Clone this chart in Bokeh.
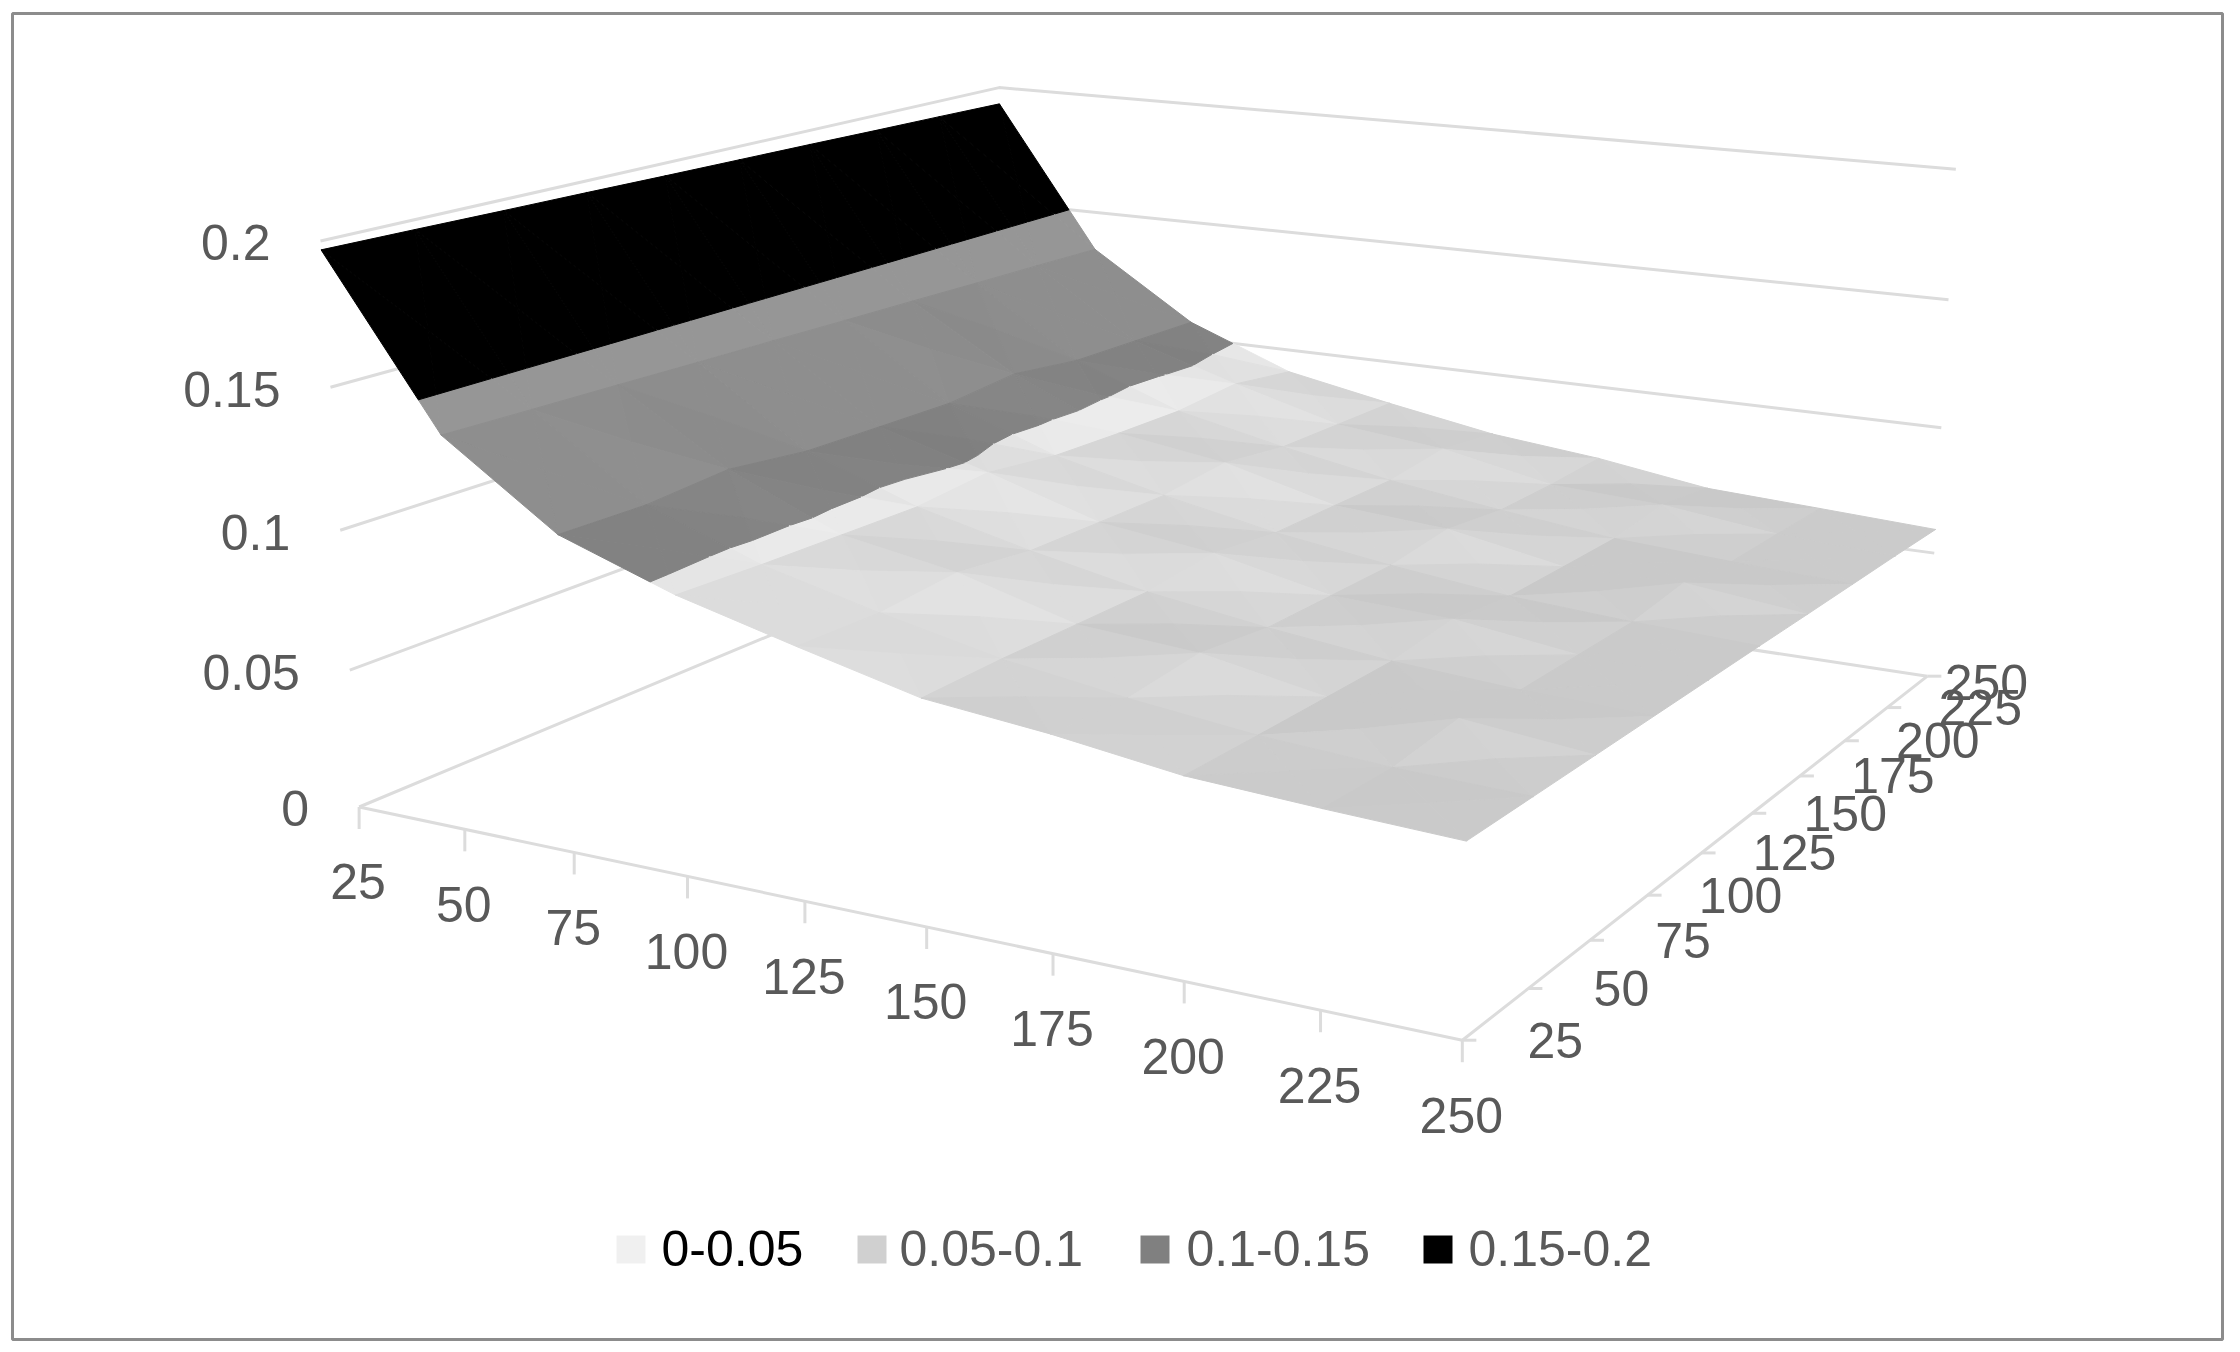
import numpy as np
from bokeh.plotting import figure
from bokeh.embed import file_html
from bokeh.resources import INLINE
from bokeh.core.properties import value

x_values = [25, 50, 75, 100, 125, 150, 175, 200, 225, 250]
y_values = [25, 50, 75, 100, 125, 150, 175, 200, 225, 250]
z_ticks = [0, 0.05, 0.1, 0.15, 0.2]
z_labels = ["0", "0.05", "0.1", "0.15", "0.2"]
legend_labels = ["0-0.05", "0.05-0.1", "0.1-0.15", "0.15-0.2"]

z_y25 = [.197, .139, .111, .097, .0866, .0767, .0725, .0668, .0644, .0625]
z_y50 = [.1966, .1384, .1106, .0960, .0860, .0772, .0712, .0664, .0636, .0622]
z_y75 = [.1961, .1379, .113, .0955, .0885, .0770, .0740, .0662, .0664, .0619]
z_y100 = [.1957, .1373, .1097, .0950, .0852, .0768, .0708, .0660, .0632, .0616]
z_y125 = [.1952, .1368, .1092, .0975, .0848, .0796, .0706, .0688, .0630, .0613]
z_y150 = [.1948, .1362, .1088, .0940, .0845, .0764, .0704, .0655, .0628, .0610]
z_y175 = [.1944, .1357, .1114, .0930, .0870, .0762, .0732, .0652, .0656, .0606]
z_y200 = [.1939, .1351, .108, .0925, .0835, .0758, .0700, .0650, .0624, .0603]
z_y225 = [.1935, .1346, .1075, .0945, .0830, .0785, .0698, .0676, .0622, .0600]
z_y250 = [.193, .134, .107, .0907, .0825, .075, .0705, .0640, .0618, .0595]
Z = np.array([z_y25, z_y50, z_y75, z_y100, z_y125, z_y150, z_y175, z_y200, z_y225, z_y250])

# camera: calibration of unit cube (u, v, w) onto the page, solved as a projective matrix
cal = [((0,0,0),(355,807)),((1,0,0),(1461,1038)),((1,1,0),(1925,677)),((0,1,0),(1013,538)),
       ((0,0,1),(324,238)),((1,1,1),(1957,166)),((0,1,1),(992,90)),((1,0,1),(1477,388)),
       ((0,0,.25),(347,669)),((0,0,.5),(339,528)),((0,0,.75),(332,385)),
       ((1,1,.25),(1932,553)),((1,1,.5),(1941,426)),((1,1,.75),(1949,296))]
A = []
for (u,v,w),(sx,sy) in cal:
    A.append([u,v,w,1,0,0,0,0,-sx*u,-sx*v,-sx*w,-sx])
    A.append([0,0,0,0,u,v,w,1,-sy*u,-sy*v,-sy*w,-sy])
P = np.linalg.svd(np.array(A,float))[2][-1].reshape(3,4)

def proj(x, y, z):
    h = P @ np.array([(x-25)/225, (y-25)/225, z/0.2, 1.0])
    return float(h[0]/h[2]), float(h[1]/h[2])

def clip(poly, lo, hi):
    def cut(pts, keep, level):
        out = []
        for i in range(len(pts)):
            a, b = pts[i], pts[(i+1) % len(pts)]
            ka, kb = keep(a[2]), keep(b[2])
            if ka:
                out.append(a)
            if ka != kb:
                t = (level-a[2])/(b[2]-a[2])
                out.append(tuple(a[k]+t*(b[k]-a[k]) for k in range(3)))
        return out
    pts = cut(poly, lambda z: z >= lo, lo)
    if pts:
        pts = cut(pts, lambda z: z <= hi, hi)
    return pts

def shade(tri, band):
    (x1,y1,z1),(x2,y2,z2),(x3,y3,z3) = tri
    M = np.array([[(x2-x1)/225,(y2-y1)/225],[(x3-x1)/225,(y3-y1)/225]])
    g = np.linalg.solve(M, np.array([(z2-z1)/.2,(z3-z1)/.2]))
    su, sv = -g[0], g[1]
    if band == 3:
        v = 0
    elif band == 2:
        v = np.clip(118 + 20*su + 12*sv, 120, 150)
    elif band == 1:
        v = np.clip(199 + 50*su + 40*sv, 201, 236)
    else:
        v = 240
    return "#{0:02x}{0:02x}{0:02x}".format(int(v))

xs, ys, cols = [], [], []
bands = [(0,.05),(.05,.1),(.1,.15),(.15,.2)]
for j in range(8, -1, -1):
    for i in range(9):
        c = [(x_values[i],y_values[j],Z[j,i]),(x_values[i+1],y_values[j],Z[j,i+1]),
             (x_values[i+1],y_values[j+1],Z[j+1,i+1]),(x_values[i],y_values[j+1],Z[j+1,i])]
        m = ((x_values[i]+x_values[i+1])/2,(y_values[j]+y_values[j+1])/2,float(Z[j:j+2,i:i+2].mean()))
        for k in (2,1,3,0):
            tri = [c[k],c[(k+1)%4],m]
            for b,(lo,hi) in enumerate(bands):
                pts = clip(tri,lo,hi)
                if len(pts) >= 3:
                    scr = [proj(*q) for q in pts]
                    xs.append([s[0] for s in scr]); ys.append([s[1] for s in scr])
                    cols.append(shade(tri,b))

p = figure(width=2232, height=1344, x_range=(0,2232), y_range=(1344,0), output_backend="svg",
           toolbar_location=None, min_border=0, outline_line_color=None)
p.axis.visible = False
p.grid.visible = False
p.background_fill_color = "white"

p.quad(left=[12], right=[2222], top=[13], bottom=[1339], fill_color="white", line_color="#8c8c8c", line_width=3)

GRID = "#dcdcdc"
lx, ly = [], []
for z in z_ticks:
    a, b, c = proj(25,25,z), proj(25,250,z), proj(250,250,z)
    lx.append([a[0],b[0],c[0]]); ly.append([a[1],b[1],c[1]])
a, b, c = proj(25,25,0), proj(250,25,0), proj(250,250,0)
lx.append([a[0],b[0],c[0]]); ly.append([a[1],b[1],c[1]])
for x in x_values:
    q = proj(x,25,0)
    lx.append([q[0],q[0]]); ly.append([q[1],q[1]+22])
for y in y_values:
    q = proj(250,y,0)
    lx.append([q[0],q[0]+14]); ly.append([q[1],q[1]])
p.multi_line(lx, ly, line_color=GRID, line_width=3)

p.patches(xs, ys, fill_color=cols, line_color=cols, line_width=1)

FONT = value("Liberation Sans")
FS = "50px"
TC = "#595959"
zx, zy = [], []
for z in z_ticks:
    q = proj(25,25,z)
    zx.append(q[0]-50); zy.append(q[1]+2)
p.text(zx, zy, text=z_labels, text_font=FONT, text_font_size=FS, text_color=TC,
       text_align="right", text_baseline="middle")
q = [proj(x,25,0) for x in x_values]
p.text([s[0]-1 for s in q], [s[1]+75 for s in q], text=[str(x) for x in x_values], text_font=FONT,
       text_font_size=FS, text_color=TC, text_align="center", text_baseline="middle")
q = [proj(250,y,0) for y in y_values]
dx = [93]*9 + [59]
dy = [0]*9 + [6]
p.text([s[0]+a for s,a in zip(q,dx)], [s[1]+b for s,b in zip(q,dy)], text=[str(y) for y in y_values],
       text_font=FONT, text_font_size=FS, text_color=TC, text_align="center", text_baseline="middle")

sw_left = [616, 857, 1140, 1423]
tx_left = [661, 899, 1186, 1468]
sw_col = ["#f0f0f0", "#d0d0d0", "#808080", "#000000"]
tx_col = ["#000000", "#595959", "#595959", "#595959"]
p.quad(left=sw_left, right=[s+29 for s in sw_left], top=[1235]*4, bottom=[1263]*4, fill_color=sw_col, line_color=None)
p.text(tx_left, [1248]*4, text=legend_labels, text_font=FONT, text_font_size=FS, text_color=tx_col,
       text_align="left", text_baseline="middle")

open("out.html", "w").write(file_html(p, INLINE))
